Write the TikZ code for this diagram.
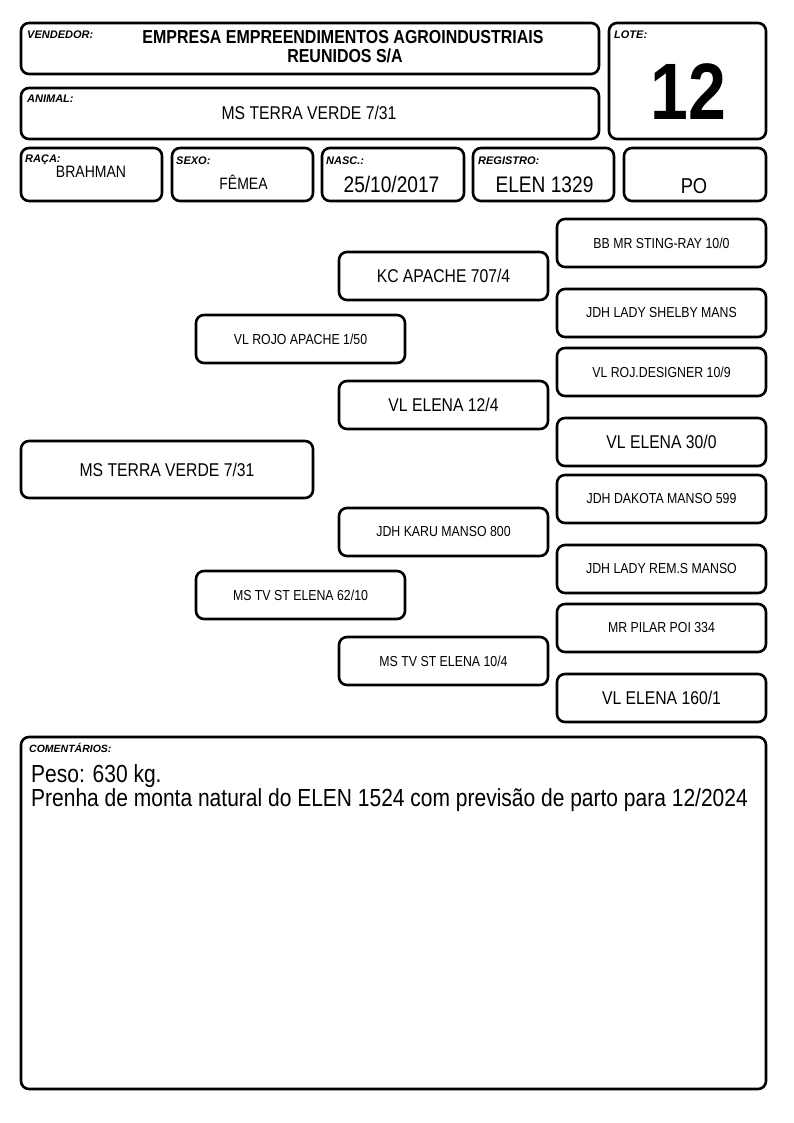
\documentclass[tikz,border=0pt]{standalone}
\usepackage{fontspec}
\setmainfont{Liberation Sans}
\newfontfamily\cf[FakeStretch=0.85]{Liberation Sans}
\newcommand\fsz[1]{\fontsize{#1}{#1}\selectfont}
\tikzset{
  frame/.style={draw, line width=2.6pt, rounded corners=8pt, inner sep=0pt},
  pbox/.style={frame, minimum width=209pt, minimum height=48pt, font=\cf\fsz{14.5}},
  bigt/.style={font=\cf\fsz{18.5}},
  lbl/.style={anchor=base west, inner sep=0pt, font=\bfseries\itshape\fsz{11}},
  val/.style={anchor=base, inner sep=0pt},
}
\begin{document}
\begin{tikzpicture}[x=1pt, y=-1pt]
\useasboundingbox[fill=white] (0,0) rectangle (794,1123);

% header
\node[frame, minimum width=578pt, minimum height=51pt] (vend) at (310,48.5) {};
\node[lbl] (vendl) at (27,39) {VENDEDOR:};
\node[val, font=\cf\bfseries\fsz{18.8}] (vend1) at (343,44) {EMPRESA EMPREENDIMENTOS AGROINDUSTRIAIS};
\node[val, font=\cf\bfseries\fsz{18.8}] (vend2) at (345,63) {REUNIDOS S/A};

\node[frame, minimum width=578pt, minimum height=51pt] (anim) at (310,113.5) {};
\node[lbl] (animl) at (27,103) {ANIMAL:};
\node[val, font=\cf\fsz{18.5}] (animv) at (309,119.5) {MS TERRA VERDE 7/31};

\node[frame, minimum width=157pt, minimum height=116pt] (lote) at (687.5,81) {};
\node[lbl] (lotel) at (614,39) {LOTE:};
\node[val, font=\cf\bfseries\fsz{80}] (lotev) at (688.5,120) {12};

% row 3
\node[frame, minimum width=141pt, minimum height=53pt] (raca) at (91.5,174.5) {};
\node[frame, minimum width=141pt, minimum height=53pt] (sexo) at (242.5,174.5) {};
\node[frame, minimum width=142pt, minimum height=53pt] (nasc) at (393,174.5) {};
\node[frame, minimum width=141pt, minimum height=53pt] (reg) at (543.5,174.5) {};
\node[frame, minimum width=142pt, minimum height=53pt] (po) at (695,174.5) {};
\node[lbl] (racal) at (25,163) {RAÇA:};
\node[lbl] (sexol) at (176,165) {SEXO:};
\node[lbl] (nascl) at (326,165) {NASC.:};
\node[lbl] (regl) at (478,165) {REGISTRO:};
\node[val, font=\cf\fsz{16.5}] (racav) at (91,178) {BRAHMAN};
\node[val, font=\cf\fsz{16.5}] (sexov) at (243.5,190) {FÊMEA};
\node[val, font=\cf\fsz{22.5}] (nascv) at (391.5,193) {25/10/2017};
\node[val, font=\cf\fsz{22.5}] (regv) at (544.5,193) {ELEN 1329};
\node[val, font=\cf\fsz{21.5}] (pov) at (694,194) {PO};

% pedigree
\node[pbox, minimum width=292pt, minimum height=57pt, bigt] (p0) at (167,469.5) {MS TERRA VERDE 7/31};

\node[pbox] (p1) at (300.5,339) {VL ROJO APACHE 1/50};
\node[pbox] (p2) at (300.5,595) {MS TV ST ELENA 62/10};

\node[pbox, bigt] (p11) at (443.5,276) {KC APACHE 707/4};
\node[pbox, bigt] (p12) at (443.5,405) {VL ELENA 12/4};
\node[pbox] (p21) at (443.5,532) {JDH KARU MANSO 800};
\node[pbox] (p22) at (443.5,661) {MS TV ST ELENA 10/4};

\node[pbox] (p111) at (661.5,243) {BB MR STING-RAY 10/0};
\node[pbox] (p112) at (661.5,313) {JDH LADY SHELBY MANS};
\node[pbox] (p121) at (661.5,372) {VL ROJ.DESIGNER 10/9};
\node[pbox, bigt] (p122) at (661.5,442) {VL ELENA 30/0};
\node[pbox] (p211) at (661.5,499) {JDH DAKOTA MANSO 599};
\node[pbox] (p212) at (661.5,569) {JDH LADY REM.S MANSO};
\node[pbox] (p221) at (661.5,628) {MR PILAR POI 334};
\node[pbox, bigt] (p222) at (661.5,698) {VL ELENA 160/1};

% comments
\node[frame, minimum width=745pt, minimum height=352pt] (com) at (393.5,913) {};
\node[lbl, font=\bfseries\itshape\fsz{10.5}] (coml) at (29,752) {COMENTÁRIOS:};
\node[anchor=base west, inner sep=0pt, font=\cf\fsz{24.7}] (com1) at (31,782) {Peso: 630 kg.};
\node[anchor=base west, inner sep=0pt, font=\cf\fsz{24.7}] (com2) at (31,806) {Prenha de monta natural do ELEN 1524 com previsão de parto para 12/2024};
\end{tikzpicture}
\end{document}
